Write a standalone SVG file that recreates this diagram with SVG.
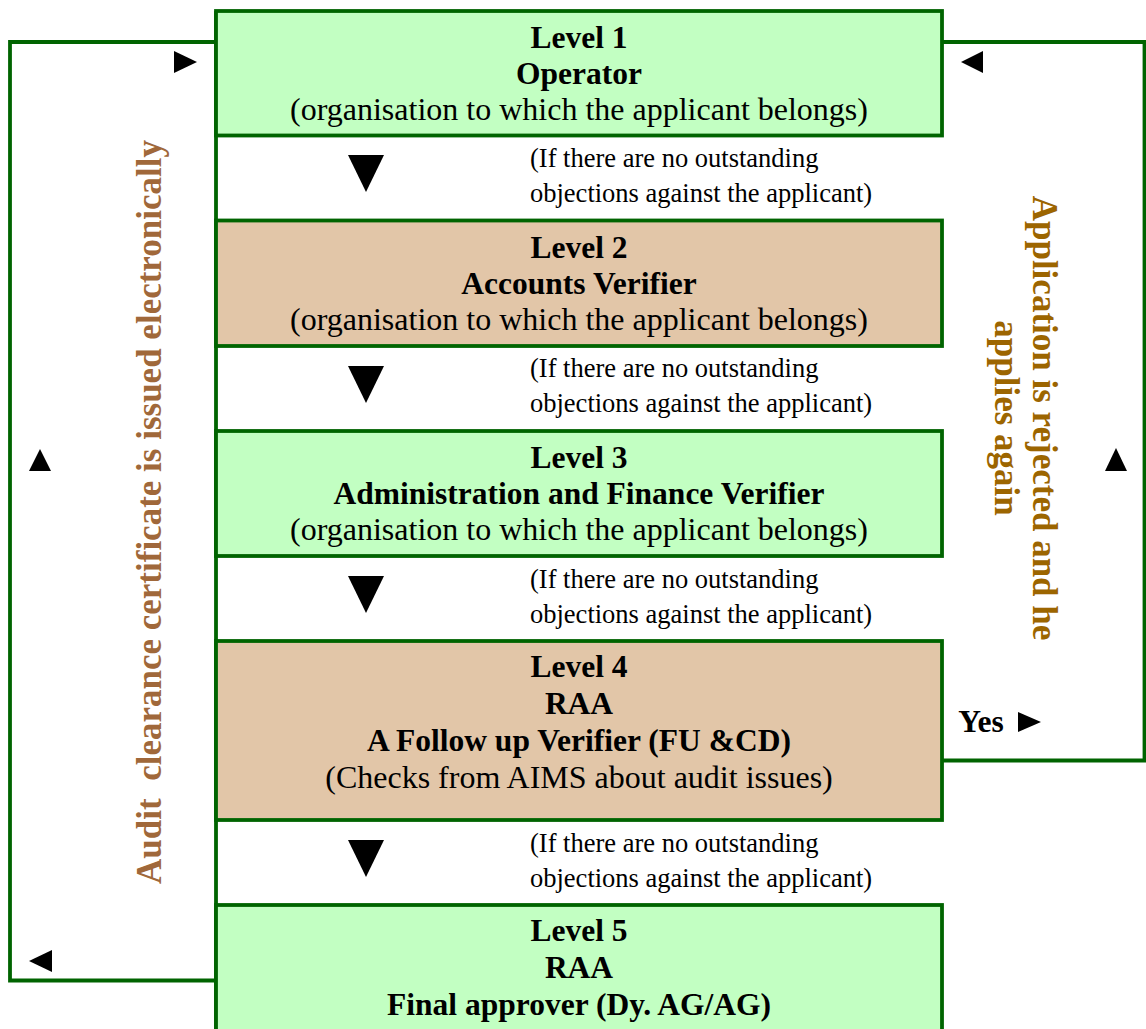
<svg xmlns="http://www.w3.org/2000/svg" width="1146" height="1029" viewBox="0 0 1146 1029">
<style>
.box{stroke:#006400;stroke-width:3.8}
.g{fill:#c2ffc2}
.t{fill:#e2c6a8}
.ln{fill:none;stroke:#006400;stroke-width:3.8}
.b{font-family:"Liberation Serif","Times New Roman",serif;font-weight:bold;font-size:31.5px;fill:#000;text-anchor:middle}
.r{font-family:"Liberation Serif","Times New Roman",serif;font-size:32px;fill:#000;text-anchor:middle}
.c{font-family:"Liberation Serif","Times New Roman",serif;font-size:26.5px;fill:#000}
.v{font-family:"Liberation Serif","Times New Roman",serif;font-weight:bold;font-size:35px;text-anchor:middle;white-space:pre}
.tri{fill:#000}
</style>
<rect width="1146" height="1029" fill="#fff"/>
<g id="connectors">
<path class="ln" d="M216,42 H10 V980.5 H216"/>
<path class="ln" d="M942,42 H1144.5 V760.5 H942"/>
<path class="ln" d="M216,11 V1029"/>
<polygon class="tri" points="174,51 197,62 174,73"/>
<polygon class="tri" points="983,51 961,62 983,73"/>
<polygon class="tri" points="52,950 29,961 52,972"/>
<polygon class="tri" points="29,471 51,471 40,449"/>
<polygon class="tri" points="1105,471 1127,471 1116,448"/>
<polygon class="tri" points="348,155 384,155 366,192"/>
<polygon class="tri" points="348,366 384,366 366,403"/>
<polygon class="tri" points="348,576 384,576 366,613"/>
<polygon class="tri" points="348,840 384,840 366,877"/>
<polygon class="tri" points="1018,712 1041,722 1018,732"/>
<text class="b" x="981" y="732">Yes</text>
</g>
<g id="cond1"><text class="c" x="530" y="167">(If there are no outstanding</text><text class="c" x="530" y="202">objections against the applicant)</text></g>
<g id="cond2"><text class="c" x="530" y="377">(If there are no outstanding</text><text class="c" x="530" y="412">objections against the applicant)</text></g>
<g id="cond3"><text class="c" x="530" y="588">(If there are no outstanding</text><text class="c" x="530" y="623">objections against the applicant)</text></g>
<g id="cond4"><text class="c" x="530" y="852">(If there are no outstanding</text><text class="c" x="530" y="887">objections against the applicant)</text></g>
<g id="level1">
<rect class="box g" x="216" y="11" width="726" height="124.5"/>
<text class="b" x="579" y="48">Level 1</text>
<text class="b" x="579" y="84">Operator</text>
<text class="r" x="579" y="120">(organisation to which the applicant belongs)</text>
</g>
<g id="level2">
<rect class="box t" x="216" y="220.5" width="726" height="125.5"/>
<text class="b" x="579" y="258">Level 2</text>
<text class="b" x="579" y="294">Accounts Verifier</text>
<text class="r" x="579" y="330">(organisation to which the applicant belongs)</text>
</g>
<g id="level3">
<rect class="box g" x="216" y="431" width="726" height="125"/>
<text class="b" x="579" y="468">Level 3</text>
<text class="b" x="579" y="504">Administration and Finance Verifier</text>
<text class="r" x="579" y="540">(organisation to which the applicant belongs)</text>
</g>
<g id="level4">
<rect class="box t" x="216" y="641" width="726" height="179"/>
<text class="b" x="579" y="677">Level 4</text>
<text class="b" x="579" y="714">RAA</text>
<text class="b" x="579" y="751">A Follow up Verifier (FU &amp;CD)</text>
<text class="r" x="579" y="788">(Checks from AIMS about audit issues)</text>
</g>
<g id="level5">
<rect class="box g" x="216" y="905" width="726" height="140"/>
<text class="b" x="579" y="941">Level 5</text>
<text class="b" x="579" y="978">RAA</text>
<text class="b" x="579" y="1015">Final approver (Dy. AG/AG)</text>
</g>
<g id="label-left">
<text class="v" fill="#a0683a" transform="translate(161,512) rotate(-90)">Audit  clearance certificate is issued electronically</text>
</g>
<g id="label-right">
<text class="v" fill="#9c6500" transform="translate(1033,418) rotate(90)">Application is rejected and he</text>
<text class="v" fill="#9c6500" transform="translate(995,418) rotate(90)">applies again</text>
</g>
</svg>
